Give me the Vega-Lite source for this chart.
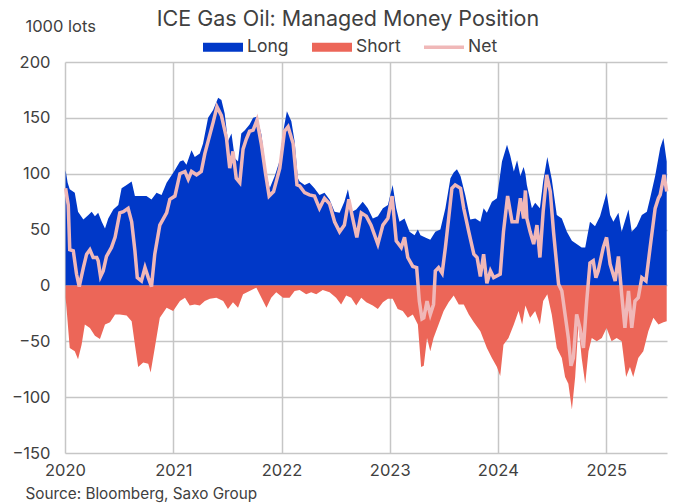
{
  "$schema": "https://vega.github.io/schema/vega-lite/v6.json",
  "width": 602,
  "height": 391,
  "autosize": {"type": "none"},
  "padding": {"left": 65, "top": 62, "right": 10, "bottom": 51},
  "background": "white",
  "title": {"text": "ICE Gas Oil: Managed Money Position", "font": "Inter", "fontSize": 21.5, "fontWeight": "normal", "color": "#404040", "anchor": "middle", "frame": "group", "dx": -18, "dy": 16},
  "config": {
    "view": {"stroke": null},
    "font": "Inter",
    "axis": {"grid": true, "gridColor": "#c6c6c6", "gridWidth": 1.5, "domain": false, "ticks": false, "labelFont": "Inter", "labelFontSize": 16, "labelColor": "#404040", "labelFlush": false, "labelOverlap": false, "titleFont": "Inter", "titleFontWeight": "normal", "titleColor": "#404040"}
  },
  "datasets": {
    "long": [
      {"date": "2020-01-03", "value": 103}, {"date": "2020-01-10", "value": 92}, {"date": "2020-01-17", "value": 86}, {"date": "2020-02-03", "value": 83}, {"date": "2020-02-14", "value": 66}, {"date": "2020-03-03", "value": 59}, {"date": "2020-03-20", "value": 63}, {"date": "2020-03-31", "value": 66}, {"date": "2020-04-11", "value": 62}, {"date": "2020-04-22", "value": 65}, {"date": "2020-05-04", "value": 57}, {"date": "2020-05-15", "value": 51}, {"date": "2020-05-26", "value": 60}, {"date": "2020-06-12", "value": 68}, {"date": "2020-06-29", "value": 72}, {"date": "2020-07-10", "value": 87}, {"date": "2020-07-27", "value": 90}, {"date": "2020-08-13", "value": 93}, {"date": "2020-08-24", "value": 80}, {"date": "2020-09-15", "value": 80}, {"date": "2020-10-02", "value": 80}, {"date": "2020-10-19", "value": 77}, {"date": "2020-11-05", "value": 83}, {"date": "2020-11-22", "value": 81}, {"date": "2020-12-09", "value": 92}, {"date": "2021-01-01", "value": 101},
      {"date": "2021-01-23", "value": 111}, {"date": "2021-02-03", "value": 112}, {"date": "2021-02-14", "value": 108}, {"date": "2021-03-03", "value": 121}, {"date": "2021-03-14", "value": 115}, {"date": "2021-03-31", "value": 118}, {"date": "2021-04-11", "value": 127}, {"date": "2021-04-28", "value": 150}, {"date": "2021-05-15", "value": 157}, {"date": "2021-06-01", "value": 168}, {"date": "2021-06-12", "value": 166}, {"date": "2021-06-23", "value": 154}, {"date": "2021-07-04", "value": 129}, {"date": "2021-07-16", "value": 136}, {"date": "2021-07-27", "value": 114}, {"date": "2021-08-07", "value": 111}, {"date": "2021-08-18", "value": 136}, {"date": "2021-08-30", "value": 139}, {"date": "2021-09-15", "value": 144}, {"date": "2021-09-27", "value": 150}, {"date": "2021-10-10", "value": 151}, {"date": "2021-10-25", "value": 135}, {"date": "2021-11-11", "value": 99}, {"date": "2021-11-22", "value": 87}, {"date": "2021-12-09", "value": 98}, {"date": "2021-12-26", "value": 112},
      {"date": "2022-01-08", "value": 140}, {"date": "2022-01-19", "value": 156}, {"date": "2022-02-03", "value": 147}, {"date": "2022-02-14", "value": 129}, {"date": "2022-02-25", "value": 96}, {"date": "2022-03-03", "value": 93}, {"date": "2022-03-20", "value": 90}, {"date": "2022-04-05", "value": 92}, {"date": "2022-04-22", "value": 87}, {"date": "2022-05-09", "value": 81}, {"date": "2022-05-26", "value": 83}, {"date": "2022-06-12", "value": 77}, {"date": "2022-06-29", "value": 66}, {"date": "2022-07-16", "value": 65}, {"date": "2022-08-01", "value": 75}, {"date": "2022-08-13", "value": 86}, {"date": "2022-08-27", "value": 66}, {"date": "2022-09-10", "value": 68}, {"date": "2022-10-02", "value": 75}, {"date": "2022-10-19", "value": 69}, {"date": "2022-11-05", "value": 60}, {"date": "2022-11-22", "value": 62}, {"date": "2022-12-09", "value": 69}, {"date": "2022-12-26", "value": 72},
      {"date": "2023-01-11", "value": 90}, {"date": "2023-01-23", "value": 69}, {"date": "2023-02-03", "value": 57}, {"date": "2023-02-20", "value": 60}, {"date": "2023-03-09", "value": 48}, {"date": "2023-03-26", "value": 45}, {"date": "2023-04-06", "value": 50}, {"date": "2023-04-15", "value": 45}, {"date": "2023-05-01", "value": 43}, {"date": "2023-05-18", "value": 41}, {"date": "2023-06-04", "value": 48}, {"date": "2023-06-21", "value": 50}, {"date": "2023-07-08", "value": 69}, {"date": "2023-07-25", "value": 96}, {"date": "2023-08-05", "value": 101}, {"date": "2023-08-16", "value": 104}, {"date": "2023-08-28", "value": 98}, {"date": "2023-09-13", "value": 81}, {"date": "2023-09-30", "value": 59}, {"date": "2023-10-17", "value": 60}, {"date": "2023-11-03", "value": 57}, {"date": "2023-11-14", "value": 69}, {"date": "2023-11-25", "value": 65}, {"date": "2023-12-12", "value": 75}, {"date": "2023-12-29", "value": 78},
      {"date": "2024-01-15", "value": 111}, {"date": "2024-02-01", "value": 126}, {"date": "2024-02-12", "value": 116}, {"date": "2024-02-24", "value": 102}, {"date": "2024-03-06", "value": 112}, {"date": "2024-03-17", "value": 98}, {"date": "2024-03-28", "value": 106}, {"date": "2024-04-03", "value": 100}, {"date": "2024-04-08", "value": 90}, {"date": "2024-04-25", "value": 69}, {"date": "2024-05-06", "value": 74}, {"date": "2024-05-22", "value": 69}, {"date": "2024-06-02", "value": 93}, {"date": "2024-06-16", "value": 115}, {"date": "2024-07-01", "value": 95}, {"date": "2024-07-18", "value": 63}, {"date": "2024-08-04", "value": 60}, {"date": "2024-08-21", "value": 48}, {"date": "2024-09-07", "value": 40}, {"date": "2024-09-23", "value": 37}, {"date": "2024-10-10", "value": 34}, {"date": "2024-10-22", "value": 34}, {"date": "2024-11-07", "value": 57}, {"date": "2024-11-24", "value": 53}, {"date": "2024-12-11", "value": 62}, {"date": "2024-12-28", "value": 78},
      {"date": "2025-01-02", "value": 83}, {"date": "2025-01-14", "value": 63}, {"date": "2025-01-25", "value": 57}, {"date": "2025-02-11", "value": 65}, {"date": "2025-02-22", "value": 48}, {"date": "2025-03-17", "value": 68}, {"date": "2025-03-28", "value": 48}, {"date": "2025-04-14", "value": 53}, {"date": "2025-05-01", "value": 63}, {"date": "2025-05-18", "value": 66}, {"date": "2025-05-29", "value": 78}, {"date": "2025-06-15", "value": 98}, {"date": "2025-07-02", "value": 123}, {"date": "2025-07-13", "value": 132}, {"date": "2025-07-24", "value": 111}
    ],
    "short": [
      {"date": "2020-01-03", "value": -11}, {"date": "2020-01-06", "value": -20}, {"date": "2020-01-17", "value": -56}, {"date": "2020-02-03", "value": -59}, {"date": "2020-02-14", "value": -66}, {"date": "2020-02-26", "value": -53}, {"date": "2020-03-08", "value": -35}, {"date": "2020-03-25", "value": -38}, {"date": "2020-04-11", "value": -45}, {"date": "2020-04-28", "value": -48}, {"date": "2020-05-15", "value": -35}, {"date": "2020-06-01", "value": -33}, {"date": "2020-06-18", "value": -26}, {"date": "2020-07-04", "value": -26}, {"date": "2020-07-27", "value": -27}, {"date": "2020-08-13", "value": -32}, {"date": "2020-08-24", "value": -53}, {"date": "2020-09-04", "value": -73}, {"date": "2020-09-21", "value": -69}, {"date": "2020-10-08", "value": -70}, {"date": "2020-10-16", "value": -78}, {"date": "2020-10-30", "value": -56}, {"date": "2020-11-16", "value": -29}, {"date": "2020-12-09", "value": -20}, {"date": "2020-12-31", "value": -23},
      {"date": "2021-01-23", "value": -14}, {"date": "2021-02-09", "value": -11}, {"date": "2021-02-25", "value": -18}, {"date": "2021-03-14", "value": -17}, {"date": "2021-03-31", "value": -18}, {"date": "2021-04-17", "value": -14}, {"date": "2021-05-04", "value": -12}, {"date": "2021-05-26", "value": -11}, {"date": "2021-06-18", "value": -14}, {"date": "2021-07-04", "value": -21}, {"date": "2021-07-21", "value": -15}, {"date": "2021-08-07", "value": -20}, {"date": "2021-08-24", "value": -8}, {"date": "2021-09-15", "value": -5}, {"date": "2021-10-08", "value": -2}, {"date": "2021-10-25", "value": -11}, {"date": "2021-11-11", "value": -20}, {"date": "2021-11-27", "value": -11}, {"date": "2021-12-14", "value": -6},
      {"date": "2022-01-06", "value": -11}, {"date": "2022-01-28", "value": -11}, {"date": "2022-02-14", "value": -5}, {"date": "2022-03-03", "value": -4}, {"date": "2022-03-25", "value": -8}, {"date": "2022-04-11", "value": -6}, {"date": "2022-04-28", "value": -8}, {"date": "2022-05-20", "value": -4}, {"date": "2022-06-12", "value": -6}, {"date": "2022-07-04", "value": -11}, {"date": "2022-07-21", "value": -17}, {"date": "2022-08-07", "value": -9}, {"date": "2022-08-24", "value": -11}, {"date": "2022-09-10", "value": -18}, {"date": "2022-09-27", "value": -11}, {"date": "2022-10-14", "value": -15}, {"date": "2022-11-05", "value": -18}, {"date": "2022-11-22", "value": -21}, {"date": "2022-12-09", "value": -15}, {"date": "2022-12-26", "value": -12},
      {"date": "2023-01-11", "value": -12}, {"date": "2023-01-28", "value": -21}, {"date": "2023-02-14", "value": -23}, {"date": "2023-03-03", "value": -29}, {"date": "2023-03-20", "value": -26}, {"date": "2023-04-06", "value": -35}, {"date": "2023-04-17", "value": -73}, {"date": "2023-04-26", "value": -72}, {"date": "2023-05-07", "value": -47}, {"date": "2023-05-18", "value": -59}, {"date": "2023-05-29", "value": -47}, {"date": "2023-06-15", "value": -35}, {"date": "2023-07-02", "value": -23}, {"date": "2023-07-19", "value": -15}, {"date": "2023-08-05", "value": -9}, {"date": "2023-08-22", "value": -17}, {"date": "2023-09-08", "value": -17}, {"date": "2023-09-25", "value": -26}, {"date": "2023-10-12", "value": -33}, {"date": "2023-11-03", "value": -41}, {"date": "2023-11-25", "value": -56}, {"date": "2023-12-12", "value": -65}, {"date": "2023-12-29", "value": -73},
      {"date": "2024-01-09", "value": -81}, {"date": "2024-01-20", "value": -53}, {"date": "2024-02-06", "value": -47}, {"date": "2024-02-24", "value": -35}, {"date": "2024-03-11", "value": -23}, {"date": "2024-03-23", "value": -35}, {"date": "2024-04-03", "value": -18}, {"date": "2024-04-19", "value": -29}, {"date": "2024-05-06", "value": -23}, {"date": "2024-05-22", "value": -35}, {"date": "2024-06-02", "value": -14}, {"date": "2024-06-16", "value": -8}, {"date": "2024-07-01", "value": -26}, {"date": "2024-07-18", "value": -56}, {"date": "2024-08-04", "value": -65}, {"date": "2024-08-15", "value": -82}, {"date": "2024-08-26", "value": -88}, {"date": "2024-09-07", "value": -111}, {"date": "2024-09-18", "value": -82}, {"date": "2024-09-29", "value": -35}, {"date": "2024-10-10", "value": -65}, {"date": "2024-10-22", "value": -88}, {"date": "2024-11-02", "value": -59}, {"date": "2024-11-13", "value": -47}, {"date": "2024-11-30", "value": -50}, {"date": "2024-12-17", "value": -47},
      {"date": "2025-01-02", "value": -38}, {"date": "2025-01-19", "value": -50}, {"date": "2025-02-05", "value": -47}, {"date": "2025-02-22", "value": -50}, {"date": "2025-03-09", "value": -82}, {"date": "2025-03-22", "value": -73}, {"date": "2025-04-02", "value": -82}, {"date": "2025-04-19", "value": -65}, {"date": "2025-05-06", "value": -59}, {"date": "2025-05-23", "value": -41}, {"date": "2025-06-09", "value": -29}, {"date": "2025-06-26", "value": -35}, {"date": "2025-07-13", "value": -33}, {"date": "2025-07-24", "value": -32}
    ],
    "net": [
      {"date": "2020-01-03", "series": "Net", "value": 87}, {"date": "2020-01-12", "series": "Net", "value": 72}, {"date": "2020-01-17", "series": "Net", "value": 32}, {"date": "2020-01-29", "series": "Net", "value": 31}, {"date": "2020-02-09", "series": "Net", "value": 10}, {"date": "2020-02-18", "series": "Net", "value": -1}, {"date": "2020-03-03", "series": "Net", "value": 16}, {"date": "2020-03-14", "series": "Net", "value": 28}, {"date": "2020-03-25", "series": "Net", "value": 32}, {"date": "2020-04-05", "series": "Net", "value": 25}, {"date": "2020-04-17", "series": "Net", "value": 25}, {"date": "2020-04-22", "series": "Net", "value": 22}, {"date": "2020-04-30", "series": "Net", "value": 8}, {"date": "2020-05-09", "series": "Net", "value": 13}, {"date": "2020-05-20", "series": "Net", "value": 26}, {"date": "2020-06-06", "series": "Net", "value": 34}, {"date": "2020-06-18", "series": "Net", "value": 43}, {"date": "2020-07-04", "series": "Net", "value": 65}, {"date": "2020-07-16", "series": "Net", "value": 66}, {"date": "2020-08-01", "series": "Net", "value": 69}, {"date": "2020-08-13", "series": "Net", "value": 57}, {"date": "2020-08-24", "series": "Net", "value": 31}, {"date": "2020-09-01", "series": "Net", "value": 7}, {"date": "2020-09-15", "series": "Net", "value": 4}, {"date": "2020-09-27", "series": "Net", "value": 16}, {"date": "2020-10-08", "series": "Net", "value": 7}, {"date": "2020-10-19", "series": "Net", "value": -1}, {"date": "2020-10-30", "series": "Net", "value": 28}, {"date": "2020-11-16", "series": "Net", "value": 54}, {"date": "2020-12-09", "series": "Net", "value": 65}, {"date": "2020-12-20", "series": "Net", "value": 77},
      {"date": "2021-01-06", "series": "Net", "value": 80}, {"date": "2021-01-23", "series": "Net", "value": 100}, {"date": "2021-02-09", "series": "Net", "value": 102}, {"date": "2021-02-20", "series": "Net", "value": 95}, {"date": "2021-03-03", "series": "Net", "value": 102}, {"date": "2021-03-20", "series": "Net", "value": 99}, {"date": "2021-04-05", "series": "Net", "value": 102}, {"date": "2021-04-17", "series": "Net", "value": 118}, {"date": "2021-05-04", "series": "Net", "value": 135}, {"date": "2021-05-15", "series": "Net", "value": 146}, {"date": "2021-05-28", "series": "Net", "value": 160}, {"date": "2021-06-12", "series": "Net", "value": 152}, {"date": "2021-06-29", "series": "Net", "value": 132}, {"date": "2021-07-10", "series": "Net", "value": 105}, {"date": "2021-07-21", "series": "Net", "value": 120}, {"date": "2021-08-01", "series": "Net", "value": 96}, {"date": "2021-08-13", "series": "Net", "value": 92}, {"date": "2021-08-24", "series": "Net", "value": 122}, {"date": "2021-09-04", "series": "Net", "value": 131}, {"date": "2021-09-15", "series": "Net", "value": 138}, {"date": "2021-09-27", "series": "Net", "value": 139}, {"date": "2021-10-10", "series": "Net", "value": 148}, {"date": "2021-10-25", "series": "Net", "value": 126}, {"date": "2021-11-08", "series": "Net", "value": 100}, {"date": "2021-11-20", "series": "Net", "value": 80}, {"date": "2021-12-05", "series": "Net", "value": 84}, {"date": "2021-12-26", "series": "Net", "value": 105},
      {"date": "2022-01-11", "series": "Net", "value": 138}, {"date": "2022-01-23", "series": "Net", "value": 142}, {"date": "2022-02-09", "series": "Net", "value": 127}, {"date": "2022-02-22", "series": "Net", "value": 90}, {"date": "2022-03-03", "series": "Net", "value": 89}, {"date": "2022-03-20", "series": "Net", "value": 83}, {"date": "2022-04-05", "series": "Net", "value": 81}, {"date": "2022-04-22", "series": "Net", "value": 80}, {"date": "2022-05-09", "series": "Net", "value": 69}, {"date": "2022-05-26", "series": "Net", "value": 78}, {"date": "2022-06-12", "series": "Net", "value": 73}, {"date": "2022-06-29", "series": "Net", "value": 57}, {"date": "2022-07-16", "series": "Net", "value": 48}, {"date": "2022-08-01", "series": "Net", "value": 54}, {"date": "2022-08-16", "series": "Net", "value": 77}, {"date": "2022-08-29", "series": "Net", "value": 60}, {"date": "2022-09-12", "series": "Net", "value": 43}, {"date": "2022-09-27", "series": "Net", "value": 65}, {"date": "2022-10-14", "series": "Net", "value": 62}, {"date": "2022-10-30", "series": "Net", "value": 54}, {"date": "2022-11-22", "series": "Net", "value": 37}, {"date": "2022-12-09", "series": "Net", "value": 54}, {"date": "2022-12-26", "series": "Net", "value": 60},
      {"date": "2023-01-09", "series": "Net", "value": 80}, {"date": "2023-01-23", "series": "Net", "value": 40}, {"date": "2023-02-09", "series": "Net", "value": 34}, {"date": "2023-02-20", "series": "Net", "value": 43}, {"date": "2023-03-03", "series": "Net", "value": 25}, {"date": "2023-03-20", "series": "Net", "value": 17}, {"date": "2023-04-02", "series": "Net", "value": 16}, {"date": "2023-04-11", "series": "Net", "value": -14}, {"date": "2023-04-20", "series": "Net", "value": -30}, {"date": "2023-04-26", "series": "Net", "value": -29}, {"date": "2023-05-07", "series": "Net", "value": -14}, {"date": "2023-05-18", "series": "Net", "value": -26}, {"date": "2023-05-29", "series": "Net", "value": -17}, {"date": "2023-06-04", "series": "Net", "value": 13}, {"date": "2023-06-15", "series": "Net", "value": 16}, {"date": "2023-06-27", "series": "Net", "value": 11}, {"date": "2023-07-08", "series": "Net", "value": 34}, {"date": "2023-07-19", "series": "Net", "value": 60}, {"date": "2023-07-30", "series": "Net", "value": 87}, {"date": "2023-08-10", "series": "Net", "value": 90}, {"date": "2023-08-28", "series": "Net", "value": 87}, {"date": "2023-09-08", "series": "Net", "value": 69}, {"date": "2023-09-25", "series": "Net", "value": 48}, {"date": "2023-10-12", "series": "Net", "value": 28}, {"date": "2023-10-23", "series": "Net", "value": 25}, {"date": "2023-11-03", "series": "Net", "value": 8}, {"date": "2023-11-14", "series": "Net", "value": 28}, {"date": "2023-11-25", "series": "Net", "value": 2}, {"date": "2023-12-07", "series": "Net", "value": 13}, {"date": "2023-12-18", "series": "Net", "value": 7},
      {"date": "2024-01-09", "series": "Net", "value": 10}, {"date": "2024-01-20", "series": "Net", "value": 48}, {"date": "2024-02-03", "series": "Net", "value": 80}, {"date": "2024-02-18", "series": "Net", "value": 57}, {"date": "2024-03-06", "series": "Net", "value": 57}, {"date": "2024-03-17", "series": "Net", "value": 78}, {"date": "2024-03-28", "series": "Net", "value": 60}, {"date": "2024-04-03", "series": "Net", "value": 85}, {"date": "2024-04-08", "series": "Net", "value": 60}, {"date": "2024-04-19", "series": "Net", "value": 48}, {"date": "2024-05-01", "series": "Net", "value": 37}, {"date": "2024-05-12", "series": "Net", "value": 54}, {"date": "2024-05-22", "series": "Net", "value": 25}, {"date": "2024-06-02", "series": "Net", "value": 66}, {"date": "2024-06-14", "series": "Net", "value": 99}, {"date": "2024-06-26", "series": "Net", "value": 84}, {"date": "2024-07-07", "series": "Net", "value": 48}, {"date": "2024-07-24", "series": "Net", "value": 1}, {"date": "2024-08-04", "series": "Net", "value": -5}, {"date": "2024-08-15", "series": "Net", "value": -26}, {"date": "2024-08-26", "series": "Net", "value": -47}, {"date": "2024-09-04", "series": "Net", "value": -72}, {"date": "2024-09-12", "series": "Net", "value": -65}, {"date": "2024-09-23", "series": "Net", "value": -26}, {"date": "2024-10-04", "series": "Net", "value": -38}, {"date": "2024-10-16", "series": "Net", "value": -56}, {"date": "2024-10-27", "series": "Net", "value": -14}, {"date": "2024-11-07", "series": "Net", "value": 20}, {"date": "2024-11-18", "series": "Net", "value": 22}, {"date": "2024-11-27", "series": "Net", "value": 7}, {"date": "2024-12-05", "series": "Net", "value": 13}, {"date": "2024-12-22", "series": "Net", "value": 34},
      {"date": "2025-01-02", "series": "Net", "value": 43}, {"date": "2025-01-14", "series": "Net", "value": 19}, {"date": "2025-01-31", "series": "Net", "value": 4}, {"date": "2025-02-11", "series": "Net", "value": 26}, {"date": "2025-02-22", "series": "Net", "value": -8}, {"date": "2025-03-05", "series": "Net", "value": -38}, {"date": "2025-03-17", "series": "Net", "value": -5}, {"date": "2025-03-28", "series": "Net", "value": -38}, {"date": "2025-04-08", "series": "Net", "value": -14}, {"date": "2025-04-19", "series": "Net", "value": -11}, {"date": "2025-05-01", "series": "Net", "value": 7}, {"date": "2025-05-15", "series": "Net", "value": 4}, {"date": "2025-05-29", "series": "Net", "value": 34}, {"date": "2025-06-15", "series": "Net", "value": 69}, {"date": "2025-06-26", "series": "Net", "value": 78}, {"date": "2025-07-02", "series": "Net", "value": 81}, {"date": "2025-07-15", "series": "Net", "value": 99}, {"date": "2025-07-24", "series": "Net", "value": 84}
    ]
  },
  "encoding": {
    "x": {
      "field": "date", "type": "temporal",
      "scale": {"domain": [{"year": 2020, "month": 1, "date": 1}, {"year": 2025, "month": 7, "date": 25}]},
      "axis": {"format": "%Y", "values": [{"year": 2020, "month": 1, "date": 1}, {"year": 2021, "month": 1, "date": 1}, {"year": 2022, "month": 1, "date": 1}, {"year": 2023, "month": 1, "date": 1}, {"year": 2024, "month": 1, "date": 1}, {"year": 2025, "month": 1, "date": 1}], "labelPadding": 9, "labelFontSize": 16.5, "title": "Source: Bloomberg, Saxo Group", "titleFontSize": 15.3, "titleX": -40, "titleY": 40, "titleAlign": "left", "titleBaseline": "middle", "titleAnchor": null}
    },
    "y": {
      "field": "value", "type": "quantitative",
      "scale": {"domain": [-150, 200], "nice": false},
      "axis": {"values": [-150, -100, -50, 0, 50, 100, 150, 200], "labelPadding": 15, "labelFontSize": 16.5, "title": "1000 lots", "titleAngle": 0, "titleFontSize": 16.5, "titleX": -40, "titleY": -36, "titleAlign": "left", "titleBaseline": "middle"}
    }
  },
  "layer": [
    {"data": {"name": "long"}, "mark": {"type": "area", "color": "#0038c8", "interpolate": "linear"}, "encoding": {"y2": {"datum": 0}}},
    {"data": {"name": "short"}, "mark": {"type": "area", "color": "#ec6658", "interpolate": "linear"}, "encoding": {"y2": {"datum": 0}}},
    {"data": {"name": "net"}, "mark": {"type": "line", "strokeWidth": 3.5, "interpolate": "linear"},
     "encoding": {"color": {"field": "series", "type": "nominal",
       "scale": {"domain": ["Long", "Short", "Net"], "range": ["#0038c8", "#ec6658", "#f0b8b8"]},
       "legend": {"orient": "none", "legendX": 138, "legendY": -35, "direction": "horizontal", "title": null, "symbolSize": 1600, "symbolStrokeWidth": 0, "labelFontSize": 17.5, "labelColor": "#404040", "labelOffset": 4, "columnPadding": 23,
         "encode": {"symbols": {"update": {
           "size": {"value": 1600},
           "strokeWidth": {"value": 0},
           "fill": {"scale": "color", "field": "value"},
           "fillOpacity": {"value": 1},
           "shape": {"signal": "datum.value === 'Net' ? 'M-1,-0.09H1V0.09H-1Z' : 'M-1,-0.225H1V0.225H-1Z'"}
         }}}}}}}
  ]
}
